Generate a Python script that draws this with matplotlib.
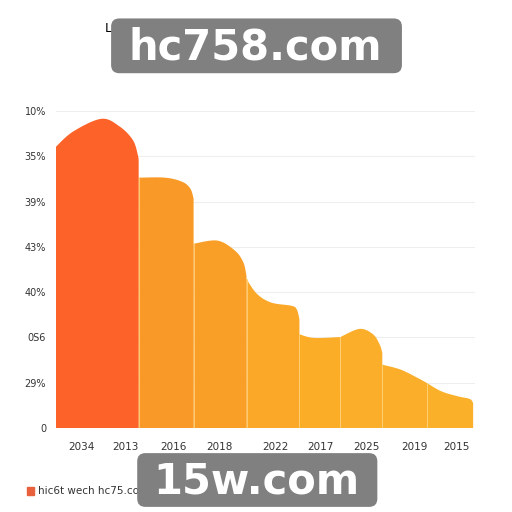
import numpy as np
import matplotlib
matplotlib.use("Agg")
import matplotlib.pyplot as plt
from matplotlib.patches import FancyBboxPatch

# segment widths (share of the axis) and the top profile of each segment
widths = [83, 55, 53, 53, 41, 42, 45, 46]
# (relative position inside the segment, height)
tops = [
    [(0, 6.21), (0.21, 6.55), (0.55, 6.83), (0.77, 6.66), (0.93, 6.36), (0.99, 6.03), (1.0, 5.88)],
    [(0, 5.53), (0.48, 5.53), (0.79, 5.44), (0.94, 5.29), (1.0, 5.07)],
    [(0, 4.07), (0.45, 4.14), (0.78, 3.92), (0.94, 3.66), (1.0, 3.36)],
    [(0, 3.29), (0.2, 2.96), (0.47, 2.77), (0.85, 2.70), (0.95, 2.62), (1.0, 2.40)],
    [(0, 2.07), (0.36, 1.99), (1.0, 2.01)],
    [(0, 2.01), (0.46, 2.19), (0.78, 2.07), (0.94, 1.84), (1.0, 1.66)],
    [(0, 1.40), (0.41, 1.29), (0.8, 1.10), (1.0, 0.99)],
    [(0, 0.99), (0.31, 0.81), (0.67, 0.70), (0.93, 0.64), (1.0, 0.55)],
]
colors = ["#fd6229", "#f99a28", "#f99f28", "#fba828",
          "#fbad28", "#fbae29", "#fbae29", "#fbb02a"]

x_labels = ["2034", "2013", "2016", "2018", "2022", "2017", "2025", "2019", "2015"]
x_label_pos = [26, 70, 118, 164, 220, 265, 311, 359, 401]
y_labels = ["0", "29%", "0S6", "40%", "43%", "39%", "35%", "10%"]


def catmull(pts, n=25):
    p = np.array(pts, dtype=float)
    p = np.vstack([p[0], p, p[-1]])
    out = []
    for i in range(1, len(p) - 2):
        p0, p1, p2, p3 = p[i - 1], p[i], p[i + 1], p[i + 2]
        t = np.linspace(0, 1, n)[:, None]
        out.append(0.5 * (2 * p1 + (-p0 + p2) * t
                          + (2 * p0 - 5 * p1 + 4 * p2 - p3) * t ** 2
                          + (-p0 + 3 * p1 - 3 * p2 + p3) * t ** 3))
    return np.vstack(out)


fig = plt.figure(figsize=(5.12, 5.12), dpi=100)
ax = fig.add_axes([0.109, 0.164, 0.819, 0.619])

edges = np.concatenate([[0], np.cumsum(widths)])
for i, w in enumerate(widths):
    pts = [(edges[i] + r * w, h) for r, h in tops[i]]
    c = catmull(pts)
    xs = np.concatenate([[edges[i]], c[:, 0], [edges[i + 1]]])
    ys = np.concatenate([[0], c[:, 1], [0]])
    ax.fill(xs, ys, color=colors[i], lw=0, zorder=2)
    if i > 0:
        ax.plot([edges[i], edges[i]], [0, min(tops[i - 1][-1][1], tops[i][0][1])],
                color="#ffd27a", lw=0.6, zorder=3)

ax.set_xlim(0, edges[-1] + 2)
ax.set_ylim(0, 7)
ax.set_yticks(range(8))
ax.set_yticklabels(y_labels, fontsize=7, color="#333333")
ax.set_xticks(x_label_pos)
ax.set_xticklabels(x_labels, fontsize=7.5, color="#333333")
ax.tick_params(length=0, pad=10)
ax.tick_params(axis="y", pad=7)
for y in range(1, 8):
    ax.axhline(y, color="#eeeeee", lw=0.8, zorder=1)
for s in ax.spines.values():
    s.set_visible(False)

fig.text(0.205, 0.945, "L", fontsize=9, color="black", ha="left", va="center")

# legend
fig.patches.append(plt.Rectangle((0.053, 0.034), 0.013, 0.014, color="#e8603c",
                                 transform=fig.transFigure, figure=fig))
fig.text(0.074, 0.041, "hic6t wech hc75.com", fontsize=7.5, color="#333333",
         va="center")

# overlay boxes
for (x0, y0, w, h), label, (tx, ty) in [
        ((0.217, 0.857, 0.568, 0.107), "hc758.com", (0.498, 0.908)),
        ((0.268, 0.010, 0.469, 0.105), "15w.com", (0.500, 0.059))]:
    fig.patches.append(FancyBboxPatch((x0, y0), w, h,
                                      boxstyle="round,pad=0,rounding_size=0.016",
                                      fc="#808080", ec="none",
                                      transform=fig.transFigure, figure=fig,
                                      zorder=10))
    fig.text(tx, ty, label, fontsize=30, fontweight="bold", family="DejaVu Sans",
             color="white", ha="center", va="center", zorder=11)

fig.savefig("out.png", dpi=100, facecolor="white")
